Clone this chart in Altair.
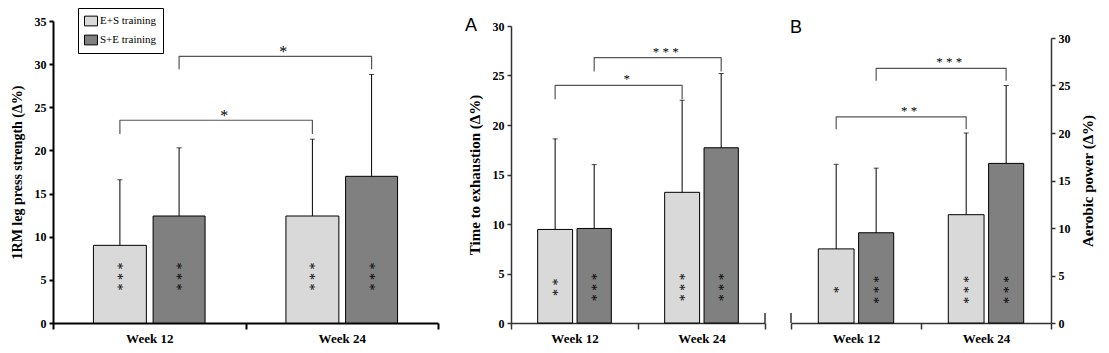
import altair as alt
import pandas as pd

weeks = ["Week 12", "Week 24"]
series = ["E+S training", "S+E training"]

# Panel 1: 1RM leg press strength (Δ%)
str_es = [9.0, 12.4]
str_se = [12.4, 17.0]
str_es_sd = [7.6, 8.9]
str_se_sd = [7.9, 11.8]
str_es_sig = ["***", "***"]
str_se_sig = ["***", "***"]
str_brackets = [("E+S training", 21.9, 23.5, "*"), ("S+E training", 29.4, 30.9, "*")]

# Panel A: time to exhaustion (Δ%)
tte_es = [9.45, 13.2]
tte_se = [9.55, 17.7]
tte_es_sd = [9.15, 9.3]
tte_se_sd = [6.45, 7.5]
tte_es_sig = ["**", "***"]
tte_se_sig = ["***", "***"]
tte_brackets = [("E+S training", 22.6, 24.0, "*"), ("S+E training", 25.4, 26.8, "* * *")]

# Panel B: aerobic power (Δ%)
pow_es = [7.8, 11.4]
pow_se = [9.5, 16.8]
pow_es_sd = [8.9, 8.6]
pow_se_sd = [6.8, 8.2]
pow_es_sig = ["*", "***"]
pow_se_sig = ["***", "***"]
pow_brackets = [("E+S training", 20.4, 21.7, "* *"), ("S+E training", 25.5, 26.8, "* * *")]

LIGHT = "#d9d9d9"
DARK = "#808080"
SERIF = "Liberation Serif"
BAR_SPAN = [(0.21, 0.485), (0.52, 0.79)]
H = 302


def make_panel(es, se, es_sd, se_sd, es_sig, se_sig, brackets, ymax, width,
               yrange, orient, ytitle, title_size, star_y, axis_color, axis_width,
               letter=None, letter_xy=None, legend=False, bracket_size=16,
               bracket_dy=3, break_at=None):
    rows = []
    for gi, w in enumerate(weeks):
        for si, s in enumerate(series):
            m = (es, se)[si][gi]
            sd = (es_sd, se_sd)[si][gi]
            sig = (es_sig, se_sig)[si][gi]
            lo, hi = BAR_SPAN[si]
            rows.append(dict(week=w, series=s, x0=gi + lo, x1=gi + hi,
                             xc=gi + (lo + hi) / 2, mean=m, top=m + sd, zero=0,
                             sig=" ".join(list(sig)), sy=star_y))
    df = pd.DataFrame(rows)

    brows, lrows = [], []
    for bi, (s, leg, top, lab) in enumerate(brackets):
        si = series.index(s)
        c = sum(BAR_SPAN[si]) / 2
        xa, xb = c, 1 + c
        for o, (xx, yy) in enumerate([(xa, leg), (xa, top), (xb, top), (xb, leg)]):
            brows.append(dict(b=bi, o=o, x=xx, y=yy))
        lrows.append(dict(x=(xa + xb) / 2, y=top, lab=lab))
    bdf = pd.DataFrame(brows)
    ldf = pd.DataFrame(lrows)

    xscale = alt.Scale(domain=[0, 2], nice=False, zero=False)
    label_expr = (f"datum.value == 0.5 ? '{weeks[0]}' : "
                  f"datum.value == 1.5 ? '{weeks[1]}' : ''")
    xaxis = alt.Axis(values=[0, 0.5, 1, 1.5, 2], labelExpr=label_expr, title=None,
                     grid=False, domainColor=axis_color, domainWidth=axis_width,
                     tickColor=axis_color, tickWidth=axis_width, tickSize=6,
                     tickOpacity={"condition": {"test": "datum.value % 1 != 0", "value": 0},
                                  "value": 1},
                     labelFont=SERIF, labelFontWeight="bold", labelFontSize=13,
                     labelColor="black", labelPadding=3, labelFlush=False,
                     labelOverlap=False, labelBound=False)
    sc_kw = dict(domain=[0, ymax], nice=False, zero=True)
    if yrange is not None:
        sc_kw["range"] = yrange
    yscale = alt.Scale(**sc_kw)
    ax_kw = dict(orient=orient, values=list(range(0, ymax + 1, 5)), title=ytitle,
                 grid=False, domainColor=axis_color, domainWidth=axis_width,
                 tickColor=axis_color, tickWidth=axis_width, tickSize=4,
                 labelFont=SERIF, labelFontWeight="bold", labelFontSize=12,
                 labelColor="black", labelPadding=3,
                 titleFont=SERIF, titleFontWeight="bold", titleFontSize=title_size,
                 titleColor="black", titlePadding=10)
    if orient == "right":
        ax_kw["titleAngle"] = 270
        ax_kw["titleBaseline"] = "top"
    yaxis = alt.Axis(**ax_kw)

    def X(f):
        return alt.X(f, type="quantitative", scale=xscale, axis=xaxis)

    def Y(f):
        return alt.Y(f, type="quantitative", scale=yscale, axis=yaxis)

    cscale = alt.Scale(domain=series, range=[LIGHT, DARK])
    if legend:
        col = alt.Color("series:N", scale=cscale, legend=alt.Legend(
            orient="none", legendX=25, legendY=-13, title=None,
            strokeColor="black", fillColor="white", padding=6,
            symbolType="M-1,-0.75H1V0.75H-1Z", symbolSize=169,
            symbolStrokeColor="black", symbolStrokeWidth=1, symbolOpacity=1,
            labelFont=SERIF, labelFontSize=11, labelColor="black",
            labelOffset=2, rowPadding=5))
        enc = {"color": col}
    else:
        enc = {"fill": alt.Fill("series:N", scale=cscale, legend=None)}

    base = alt.Chart(df)
    bars = base.mark_bar(stroke="black", strokeWidth=1, opacity=1).encode(
        x=X("x0"), x2="x1", y=Y("mean"), y2="zero", **enc)
    err = base.mark_rule(color="black", strokeWidth=1).encode(
        x=X("xc"), y=Y("mean"), y2="top")
    caps = base.mark_tick(orient="horizontal", color="black", size=5, thickness=1).encode(
        x=X("xc"), y=Y("top"))
    sig = base.mark_text(font=SERIF, fontSize=14, angle=90, align="center",
                         baseline="middle", dy=3, color="black").encode(
        x=X("xc"), y=Y("sy"), text="sig:N")
    blines = alt.Chart(bdf).mark_line(color="#555555", strokeWidth=1.2, strokeJoin="round").encode(
        x=X("x"), y=Y("y"), detail="b:N", order="o:Q")
    blabels = alt.Chart(ldf).mark_text(font=SERIF, fontSize=bracket_size, baseline="alphabetic",
                                       dx=8, dy=bracket_dy, color="black").encode(
        x=X("x"), y=Y("y"), text="lab:N")
    layers = [bars, err, caps, sig, blines, blabels]
    if break_at is not None:
        brk = alt.Chart(pd.DataFrame({"x": [break_at]})).mark_rule(
            color=axis_color, strokeWidth=axis_width).encode(
            x=X("x"), y=alt.value(H - 10), y2=alt.value(H))
        layers.append(brk)
    if letter:
        lt = alt.Chart(pd.DataFrame({"t": [letter]})).mark_text(
            font="Liberation Sans", fontSize=18, align="center", baseline="middle",
            color="black").encode(x=alt.value(letter_xy[0]), y=alt.value(letter_xy[1]), text="t:N")
        layers.append(lt)
    return alt.layer(*layers).properties(width=width, height=H)


p1 = make_panel(str_es, str_se, str_es_sd, str_se_sd, str_es_sig, str_se_sig, str_brackets,
                35, 385, None, "left", "1RM leg press strength (Δ%)", 14, 5.4,
                "black", 2, legend=True, bracket_size=16, bracket_dy=1)
pA = make_panel(tte_es, tte_se, tte_es_sd, tte_se_sd, tte_es_sig, tte_se_sig, tte_brackets,
                30, 254, [H, 5], "left", "Time to exhaustion (Δ%)", 15, 3.6,
                "#333333", 1.5, letter="A", letter_xy=[-40, 5], bracket_size=13,
                bracket_dy=-2, break_at=2)
pB = make_panel(pow_es, pow_se, pow_es_sd, pow_se_sd, pow_es_sig, pow_se_sig, pow_brackets,
                30, 260, [H, 17], "right", "Aerobic power (Δ%)", 15, 3.5,
                "#333333", 1.5, letter="B", letter_xy=[5, 7], bracket_size=13,
                bracket_dy=-2, break_at=0)

chart = alt.hconcat(
    p1,
    alt.hconcat(pA, pB, spacing=26, bounds="flush"),
    spacing=73, bounds="flush",
).resolve_scale(color="independent", fill="independent").properties(
    padding={"left": 10, "top": 7, "right": 5, "bottom": 5}
).configure_view(stroke=None)

chart.save("out.html", embed_options={"renderer": "svg", "actions": False})
